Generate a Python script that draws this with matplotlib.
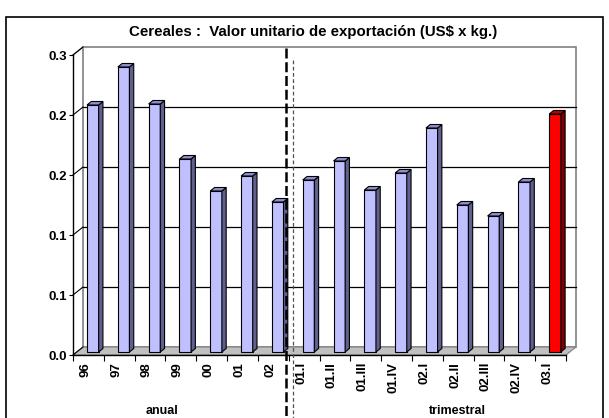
import matplotlib
matplotlib.use("Agg")
import matplotlib.pyplot as plt
from matplotlib.patches import Polygon, Rectangle

plt.rcParams['font.family'] = ['Liberation Sans', 'DejaVu Sans']

# data
cats = ['96', '97', '98', '99', '00', '01', '02',
        '01.I', '01.II', '01.III', '01.IV', '02.I', '02.II', '02.III', '02.IV', '03.I']
vals = [0.247, 0.285, 0.248, 0.193, 0.161, 0.176, 0.150,
        0.172, 0.191, 0.162, 0.179, 0.224, 0.147, 0.136, 0.170, 0.238]
yticks = [0.0, 0.06, 0.12, 0.18, 0.24, 0.30]
ylabels = ['0.0', '0.1', '0.1', '0.2', '0.2', '0.3']

n = len(cats)
fig = plt.figure(figsize=(6.09, 4.18), dpi=100)
ax = fig.add_axes([73/609, 63/418, 493/609, 300/418])
ax.set_xlim(0, n)
ax.set_ylim(0, 0.3)

# pseudo 3d depth, in data units
px = n / 493.0
py = 0.3 / 300.0
bdx, bdy = 10*px, 8*py      # back wall offset
fdx, fdy = 3.5*px, 3*py     # bar front face offset
sdx, sdy = 4.3*px, 3.5*py   # bar depth
w = 11.6*px

# floor
ax.add_patch(Polygon([(0, 0), (n, 0), (n+bdx, bdy), (bdx, bdy)], closed=True,
                     facecolor='#c0c0c0', edgecolor='#808080', lw=0.8, zorder=1, clip_on=False))
# back wall and left wall
ax.add_patch(Rectangle((bdx, bdy), n, 0.3, facecolor='white', edgecolor='#808080',
                       lw=1.2, zorder=0.5, clip_on=False))
ax.plot([0, bdx], [0.3, 0.3+bdy], color='#808080', lw=1, clip_on=False, zorder=1)
for t in yticks[1:-1]:
    ax.plot([bdx, n+bdx], [t+bdy, t+bdy], color='black', lw=0.9, clip_on=False, zorder=1)
for t in yticks:
    ax.plot([0, bdx], [t, t+bdy], color='black', lw=0.8, clip_on=False, zorder=1)

# bars
for i, v in enumerate(vals):
    if i == n - 1:
        cf, cs, ct = '#ff0000', '#800000', '#c00000'
    else:
        cf, cs, ct = '#c0c0ff', '#606090', '#9090d0'
    xl = i + 0.5 + fdx - w/2 + 0.03
    xr = xl + w
    b = fdy
    ax.bar(xl + w/2, v, width=w, bottom=b, color=cf, edgecolor='black', lw=0.8,
           zorder=3, clip_on=False)
    ax.add_patch(Polygon([(xr, b), (xr+sdx, b+sdy), (xr+sdx, b+v+sdy), (xr, b+v)],
                         closed=True, facecolor=cs, edgecolor='black', lw=0.8,
                         zorder=3, clip_on=False))
    ax.add_patch(Polygon([(xl, b+v), (xr, b+v), (xr+sdx, b+v+sdy), (xl+sdx, b+v+sdy)],
                         closed=True, facecolor=ct, edgecolor='black', lw=0.8,
                         zorder=3, clip_on=False))

# axes styling
for s in ['top', 'right']:
    ax.spines[s].set_visible(False)
ax.spines['left'].set_linewidth(1)
ax.spines['bottom'].set_linewidth(1)
ax.spines['left'].set_zorder(4)
ax.spines['bottom'].set_zorder(4)
ax.patch.set_visible(False)

ax.set_yticks(yticks)
ax.set_yticklabels(ylabels, fontsize=9.5, fontweight='bold')
ax.tick_params(axis='y', length=3, width=0.8, pad=1.5)

ax.set_xticks([i + 0.4 for i in range(n)])
ax.set_xticklabels(cats, rotation=90, fontsize=9.5, fontweight='bold')
ax.tick_params(axis='x', which='major', length=0, pad=5)
ax.set_xticks(range(n + 1), minor=True)
ax.tick_params(axis='x', which='minor', length=4, width=0.8)

# separators between annual and quarterly
ax.plot([6.92, 6.92], [0.307, -0.09], color='black', lw=1.8,
        linestyle=(0, (4, 1.5)), clip_on=False, zorder=5)
ax.plot([7.15, 7.15], [0.295, -0.09], color='#505050', lw=0.9,
        linestyle=(0, (3, 2)), clip_on=False, zorder=5)

fig.text(162/609, 1 - 411/418, 'anual', ha='center', va='center',
         fontsize=9, fontweight='bold')
fig.text(457/609, 1 - 411/418, 'trimestral', ha='center', va='center',
         fontsize=9, fontweight='bold')
fig.text(313/609, 1 - 32/418, 'Cereales :  Valor unitario de exportación (US$ x kg.)',
         ha='center', va='center', fontsize=10.8, fontweight='bold')

# outer frame
fig.add_artist(Rectangle((6/609, -0.01), 597/609, 1.01 - 17/418, transform=fig.transFigure,
                         fill=False, edgecolor='black', lw=1.2))

fig.savefig('out.png', dpi=100)
